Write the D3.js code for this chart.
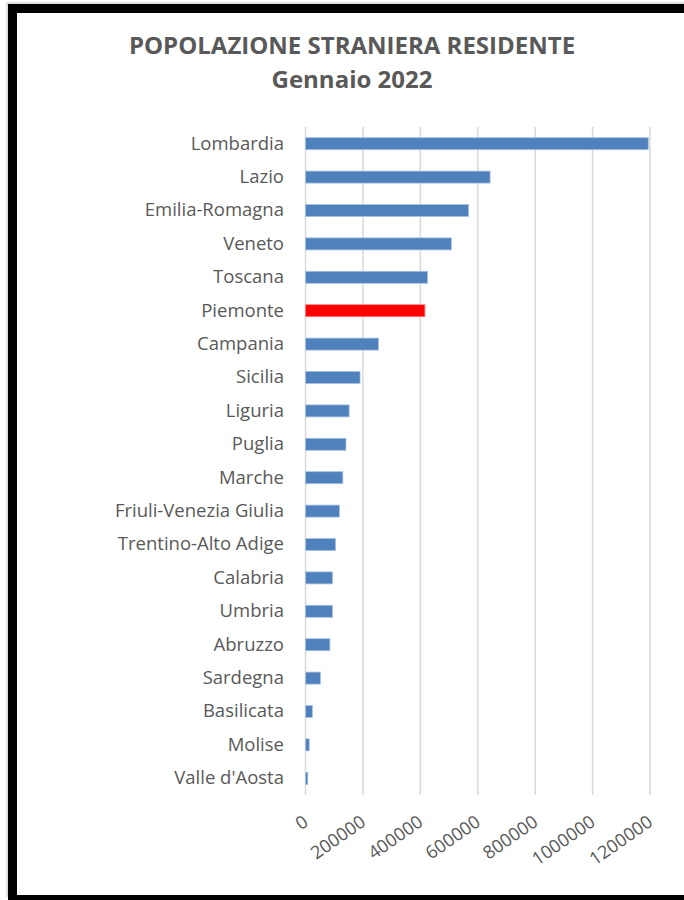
<!DOCTYPE html>
<html>
<head>
<meta charset="utf-8">
<script src="https://cdn.jsdelivr.net/npm/d3@7"></script>
<style>
  html, body { margin: 0; padding: 0; background: #fff; }
  svg { display: block; }
  text { font-family: "Open Sans", "Noto Sans", sans-serif; }
</style>
</head>
<body>
<svg id="chart" width="684" height="900"></svg>
<script>
// Regioni italiane, in ordine decrescente di residenti stranieri
const regions = [
  "Lombardia", "Lazio", "Emilia-Romagna", "Veneto", "Toscana", "Piemonte",
  "Campania", "Sicilia", "Liguria", "Puglia", "Marche", "Friuli-Venezia Giulia",
  "Trentino-Alto Adige", "Calabria", "Umbria", "Abruzzo", "Sardegna",
  "Basilicata", "Molise", "Valle d'Aosta"
];
const residents = [
  1194000, 643000, 568000, 508000, 425000, 416000,
  254000, 190000, 152000, 141000, 130000, 118000,
  105000, 94000, 94000, 85000, 52000,
  24000, 13000, 8000
];
const xTicks = [0, 200000, 400000, 600000, 800000, 1000000, 1200000];
const highlighted = "Piemonte";
const titleLines = ["POPOLAZIONE STRANIERA RESIDENTE", "Gennaio 2022"];

const data = regions.map((r, i) => ({ region: r, value: residents[i] }));

const svg = d3.select("#chart");

// Cornice nera attorno al grafico
const frame = svg.append("g");
frame.append("rect").attr("x", 7).attr("y", 3).attr("width", 680).attr("height", 893)
  .attr("fill", "none").attr("stroke", "#bfbfbf").attr("stroke-width", 1);
frame.append("rect").attr("x", 8).attr("y", 4).attr("width", 676).attr("height", 9).attr("fill", "#000");
frame.append("rect").attr("x", 8).attr("y", 4).attr("width", 9).attr("height", 896).attr("fill", "#000");
frame.append("rect").attr("x", 8).attr("y", 895).attr("width", 676).attr("height", 5).attr("fill", "#000");

// Titolo
svg.append("g").selectAll("text")
  .data(titleLines)
  .join("text")
  .attr("x", 352)
  .attr("y", (d, i) => 54 + i * 34)
  .attr("text-anchor", "middle")
  .attr("font-size", 24)
  .attr("font-weight", "bold")
  .attr("fill", "#595959")
  .text(d => d);

// Scale
const x = d3.scaleLinear().domain([0, 1200000]).range([305.5, 650]);
const y = d3.scaleBand().domain(regions).range([127, 795])
  .paddingInner(0.64).paddingOuter(0.32);

// Griglia verticale
svg.append("g").selectAll("line")
  .data(xTicks)
  .join("line")
  .attr("x1", d => x(d)).attr("x2", d => x(d))
  .attr("y1", 127).attr("y2", 795)
  .attr("stroke", "#d9d9d9").attr("stroke-width", 1.5);

// Barre
svg.append("g").selectAll("rect")
  .data(data)
  .join("rect")
  .attr("x", x(0))
  .attr("y", d => y(d.region))
  .attr("width", d => x(d.value) - x(0))
  .attr("height", y.bandwidth())
  .attr("fill", d => d.region === highlighted ? "#ff0000" : "#4f81bd")
  .attr("stroke", d => d.region === highlighted ? "#ff8080" : "#a9c1e0")
  .attr("stroke-width", 0.8);

// Etichette delle categorie
const yAxis = svg.append("g")
  .attr("transform", "translate(305,0)")
  .call(d3.axisLeft(y).tickSize(0).tickPadding(21));
yAxis.select(".domain").remove();
yAxis.selectAll("text")
  .attr("font-family", "'Open Sans', 'Noto Sans', sans-serif")
  .attr("font-size", 18.5)
  .attr("fill", "#595959");

// Etichette dell'asse dei valori, ruotate
const xAxis = svg.append("g")
  .attr("transform", "translate(0,795)")
  .call(d3.axisBottom(x).tickValues(xTicks).tickFormat(d3.format("d")).tickSize(0));
xAxis.select(".domain").remove();
xAxis.selectAll(".tick text")
  .attr("font-family", "'Open Sans', 'Noto Sans', sans-serif")
  .attr("font-size", 18)
  .attr("fill", "#595959")
  .attr("text-anchor", "end")
  .attr("x", 0)
  .attr("y", 0)
  .attr("dy", "0.72em")
  .attr("transform", "translate(-4,19) rotate(-35)");
</script>
</body>
</html>
